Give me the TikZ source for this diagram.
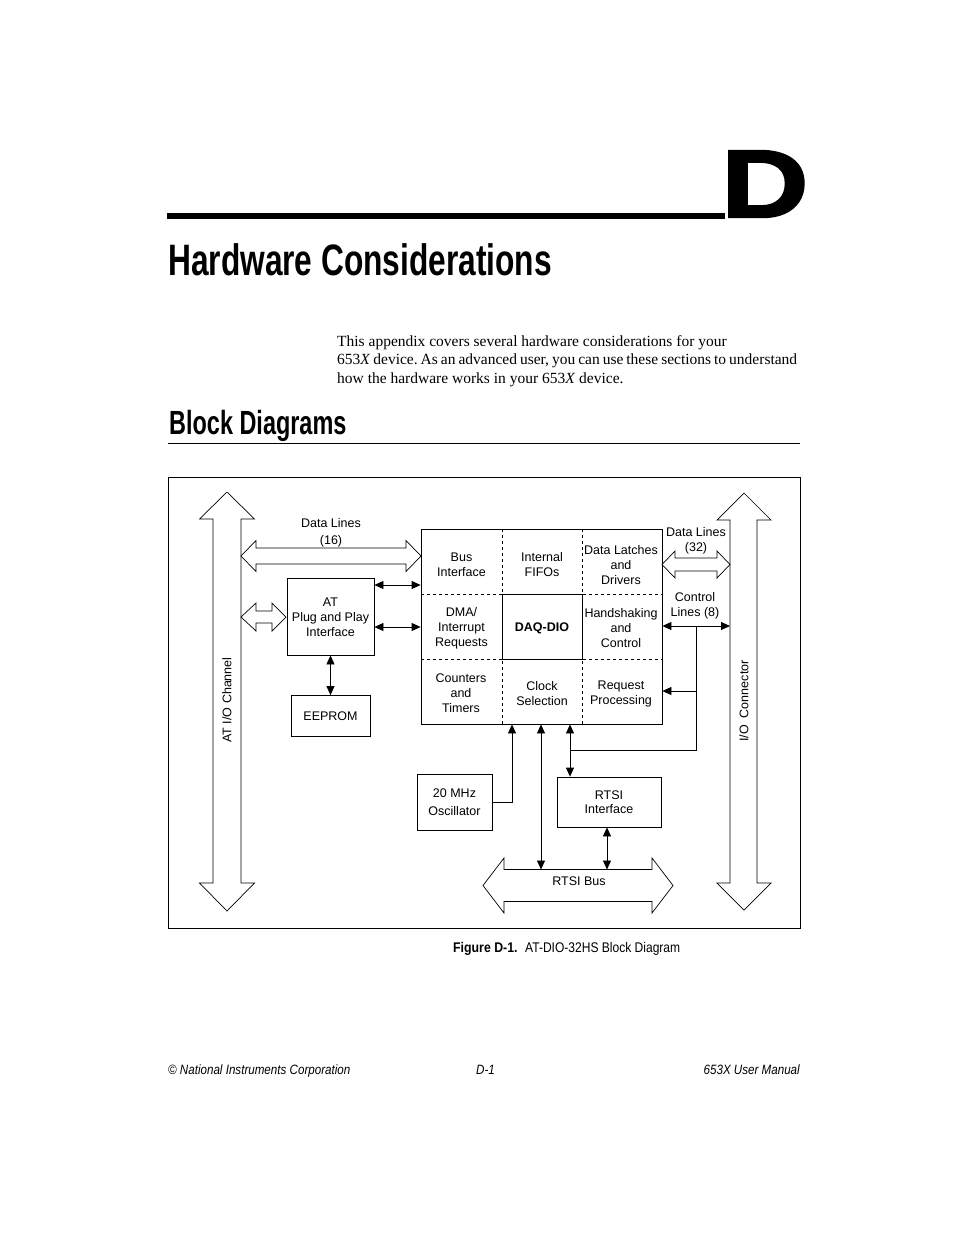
\documentclass[tikz,border=0pt]{standalone}
\usepackage{fontspec}
\setmainfont{Liberation Serif}
\newfontfamily\hv{Liberation Sans}
\newfontfamily\hvcb[FakeStretch=0.72]{Liberation Sans}
\newfontfamily\hvbd[FakeStretch=0.70]{Liberation Sans}
\newfontfamily\hvfig[FakeStretch=0.88]{Liberation Sans}
\newfontfamily\hvcap[FakeStretch=0.86]{Liberation Sans}
\newfontfamily\hvfoot[FakeStretch=0.86]{Liberation Sans}
\newfontfamily\hvD[FakeStretch=1.26,FakeBold=2.5]{Liberation Sans}
\newcommand\dfont{\hv\fontsize{12.5}{15}\selectfont}
\usetikzlibrary{arrows.meta,calc}
\frenchspacing
\begin{document}
\begin{tikzpicture}[x=1pt,y=-1pt,
  box/.style={draw, line width=0.8pt, inner sep=0pt, align=center, font=\dfont},
  cell/.style={inner sep=0pt, align=center, font=\dfont},
  lbl/.style={inner sep=0pt, align=center, font=\dfont},
  dbl/.style={line width=0.8pt, {Triangle[length=9pt,width=8pt]}-{Triangle[length=9pt,width=8pt]}},
  one/.style={line width=0.8pt, -{Triangle[length=9pt,width=8pt]}},
  hollow/.style={draw, line width=0.7pt, line join=miter},
  dsh/.style={line width=0.8pt, dash pattern=on 3pt off 3pt},
  txt/.style={anchor=base west, inner sep=0pt}]
\useasboundingbox (0,0) rectangle (954,1235);
\fill[white] (0,0) rectangle (954,1235);

% header
\fill (167,213) rectangle (725,219);
\node[txt, font=\hvD\bfseries\fontsize{96}{96}\selectfont] (letterD) at (721,217) {D};
\node[txt, font=\hvcb\bfseries\fontsize{44}{44}\selectfont] (title) at (168,275) {Hardware Considerations};
\node[txt, font=\fontsize{15.5}{18.5}\selectfont] (p1) at (337,346) {This appendix covers several hardware considerations for your};
\node[txt, font=\fontsize{15.5}{18.5}\selectfont] (p2) at (337,364.5) {\makebox[460pt][s]{653\textit{X} device. As an advanced user, you can use these sections to understand}};
\node[txt, font=\fontsize{15.5}{18.5}\selectfont] (p3) at (337,383) {how the hardware works in your 653\textit{X} device.};
\node[txt, font=\hvbd\bfseries\fontsize{33.5}{33.5}\selectfont] (sec) at (169,434) {Block Diagrams};
\draw[line width=0.8pt] (168,443) -- (800,443);

% frame
\draw[line width=0.8pt] (168,477) rectangle (800,928);

% big hollow arrows
\draw[hollow] (227,492) -- (254.5,519) -- (241,519) -- (241,883) -- (254.5,883) -- (227,911)
  -- (199.5,883) -- (213,883) -- (213,519) -- (199.5,519) -- cycle;
\node[lbl, rotate=90] (atio) at (227,700) {AT I/O Channel};
\draw[hollow] (744,493) -- (771,520) -- (757,520) -- (757,883) -- (771,883) -- (744,910)
  -- (717,883) -- (730,883) -- (730,520) -- (717,520) -- cycle;
\node[lbl, rotate=90] (ioconn) at (744,701) {I/O\ \ Connector};

% data lines 16
\draw[hollow] (241,556) -- (256,540.5) -- (256,548) -- (406,548) -- (406,540.5) -- (421,556)
  -- (406,571.5) -- (406,564) -- (256,564) -- (256,571.5) -- cycle;
\node[lbl] (dl16) at (331,532.5) {Data Lines\\[2pt](16)};

% small arrow AT -> PnP
\draw[hollow] (241,617) -- (256,603) -- (256,611) -- (272,611) -- (272,603) -- (286,617)
  -- (272,631) -- (272,623) -- (256,623) -- (256,631) -- cycle;

% data lines 32
\draw[hollow] (662,564.5) -- (675,551) -- (675,558) -- (717,558) -- (717,551) -- (730,564.5)
  -- (717,578) -- (717,571) -- (675,571) -- (675,578) -- cycle;
\node[lbl] (dl32) at (696,540.5) {Data Lines\\(32)};
\node[lbl] (cl8) at (695,605.5) {Control\\Lines (8)};

% RTSI bus
\draw[hollow] (483,885.5) -- (504,858) -- (504,869.5) -- (652,869.5) -- (652,858) -- (673,885.5)
  -- (652,913) -- (652,901.5) -- (504,901.5) -- (504,913) -- cycle;
\node[lbl] (rtsibus) at (579,881) {RTSI Bus};

% boxes
\node[box, minimum width=87pt, minimum height=77pt] (pnp) at (330.5,616.5) {};
\node[lbl] (pnptext) at (330.5,617.5) {AT\\Plug and Play\\Interface};
\node[box, minimum width=79pt, minimum height=41pt] (eeprom) at (330.5,716) {EEPROM};
\node[box, minimum width=241pt, minimum height=195pt] (core) at (541.5,626.5) {};
\node[cell] (busif) at (461.5,565) {Bus\\Interface};
\node[cell] (fifo) at (542,565) {Internal\\FIFOs};
\node[cell] (latch) at (621,565) {Data Latches\\and\\Drivers};
\node[cell] (dma) at (461.5,628.5) {DMA/\\Interrupt\\Requests};
\node[cell] (hand) at (621,628.5) {Handshaking\\and\\Control};
\node[cell] (count) at (461,693.5) {Counters\\and\\Timers};
\node[cell] (clock) at (542,694) {Clock\\Selection};
\node[cell] (req) at (621,694) {Request\\Processing};
\draw[dsh] (502,529) -- (502,724);
\draw[dsh] (582,529) -- (582,724);
\draw[dsh] (421,594) -- (662,594);
\draw[dsh] (421,659) -- (662,659);
\node[box, fill=white, minimum width=80pt, minimum height=65pt] (daq) at (542,626.5) {};
\node[lbl, font=\dfont\bfseries] (daqtext) at (542,628.5) {DAQ-DIO};
\node[box, minimum width=75pt, minimum height=56pt, font=\hv\fontsize{12.5}{18}\selectfont] (osc) at (454.5,802) {20 MHz\\Oscillator};
\node[box, minimum width=104pt, minimum height=50pt, font=\hv\fontsize{12.5}{13.5}\selectfont] (rtsi) at (609,802) {RTSI\\Interface};

% connectors
\coordinate (ya) at (0,585);
\coordinate (yb) at (0,627);
\draw[dbl] (pnp.east |- ya) -- (core.west |- ya);
\draw[dbl] (pnp.east |- yb) -- (core.west |- yb);
\draw[dbl] (pnp.south) -- (eeprom.north);
\coordinate (ioL) at (730,626);
\draw[dbl] (core.east |- ioL) -- (ioL);
\coordinate (j1) at (696,626);
\coordinate (j2) at (696,691);
\coordinate (j3) at (696,750);
\coordinate (j4) at (570,750);
\draw[line width=0.8pt] (j1) -- (j3) -- (j4);
\draw[one] (j2) -- (core.east |- j2);
\draw[dbl] (core.south -| j4) -- (rtsi.north -| j4);
\coordinate (j5) at (512,802);
\draw[one] (osc.east |- j5) -- (j5) -- (core.south -| j5);
\coordinate (b1) at (541,869.5);
\draw[dbl] (core.south -| b1) -- (b1);
\coordinate (b2) at (607,869.5);
\draw[dbl] (rtsi.south -| b2) -- (b2);

% caption and footer
\node[txt, font=\hvfig\bfseries\fontsize{14}{14}\selectfont] (figlbl) at (453,952) {Figure D-1.};
\node[txt, font=\hvcap\fontsize{14}{14}\selectfont] (figcap) at (525,952) {AT-DIO-32HS Block Diagram};
\node[txt, font=\hvfoot\itshape\fontsize{13.5}{13.5}\selectfont] (foot1) at (168,1074) {\textcopyright{} National Instruments Corporation};
\node[txt, font=\hvfoot\itshape\fontsize{13.5}{13.5}\selectfont] (foot2) at (476,1074) {D-1};
\node[anchor=base east, inner sep=0pt, font=\hvfoot\itshape\fontsize{13.5}{13.5}\selectfont] (foot3) at (800,1074) {653X User Manual};
\end{tikzpicture}
\end{document}
